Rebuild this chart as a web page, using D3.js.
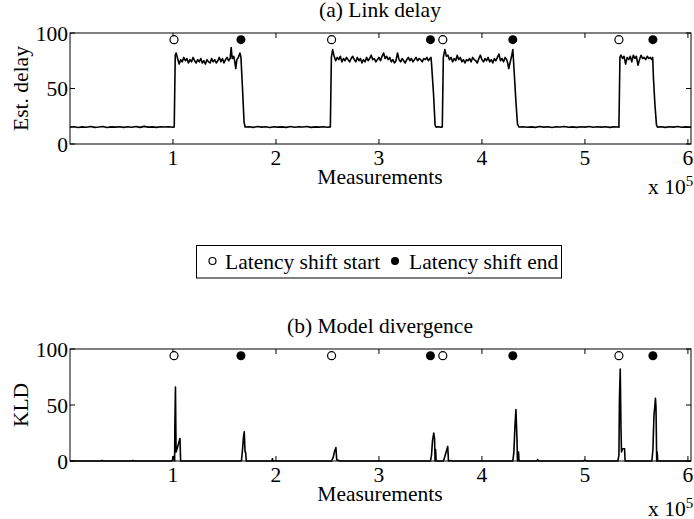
<!DOCTYPE html>
<html>
<head>
<meta charset="utf-8">
<script src="https://cdn.jsdelivr.net/npm/d3@7"></script>
<style>
  body { margin: 0; background: #fff; }
  svg { display: block; font-family: "Liberation Serif", "Times New Roman", serif; }
</style>
</head>
<body>
<svg id="chart" width="694" height="519"></svg>
<script>
// x values are in units of 10^5 measurements
const xTicks = [1, 2, 3, 4, 5, 6];
const yTicks = [0, 50, 100];

const shiftStarts = [1.01, 2.54, 3.62, 5.33];
const shiftEnds   = [1.66, 3.50, 4.30, 5.66];
const markerLevel = 94;

// (a) estimated link delay, [x, delay]
const delay = [
  [0,15.2],[0.04,15.6],[0.08,14.9],[0.12,15.4],[0.16,15.1],[0.2,15.7],[0.24,15.0],[0.28,15.3],[0.32,15.8],[0.36,14.8],
  [0.4,15.4],[0.44,15.2],[0.48,15.6],[0.52,15.0],[0.56,15.5],[0.6,15.1],[0.64,15.7],[0.68,15.0],[0.72,15.9],[0.76,15.2],
  [0.8,15.4],[0.84,15.0],[0.88,15.6],[0.92,15.3],[0.96,15.5],[1.0,15.1],[1.012,15.4],
  [1.022,80],[1.03,82],[1.045,77],[1.06,72],[1.075,76],[1.09,74],[1.105,78],[1.12,75],[1.135,77],[1.15,73],[1.165,76],
  [1.18,74],[1.195,78],[1.21,75],[1.225,73],[1.24,76],[1.255,74],[1.27,77],[1.285,73],[1.3,75],[1.315,72],[1.33,76],
  [1.345,74],[1.36,73],[1.375,77],[1.39,74],[1.405,76],[1.42,73],[1.435,75],[1.45,78],[1.465,74],[1.48,77],[1.495,73],
  [1.51,76],[1.525,78],[1.54,75],[1.555,77],[1.565,87],[1.575,77],[1.59,79],[1.6,74],[1.61,68],[1.62,76],[1.635,78],
  [1.65,82],[1.66,78],[1.675,50],[1.69,20],[1.70,15.3],
  [1.74,15.6],[1.78,15.0],[1.82,15.8],[1.86,15.2],[1.9,15.5],[1.94,14.9],[1.98,15.6],[2.02,15.2],[2.06,15.4],[2.1,15.0],
  [2.14,15.7],[2.18,15.1],[2.22,15.5],[2.26,15.3],[2.3,15.8],[2.34,15.0],[2.38,15.4],[2.42,15.2],[2.46,15.6],[2.5,15.1],[2.528,15.4],
  [2.538,78],[2.55,85],[2.565,79],[2.58,75],[2.595,78],[2.61,76],[2.625,79],[2.64,74],[2.655,77],[2.67,75],[2.685,78],
  [2.70,76],[2.715,74],[2.73,77],[2.745,79],[2.76,76],[2.775,74],[2.79,78],[2.805,75],[2.82,77],[2.835,73],[2.85,76],
  [2.865,74],[2.88,78],[2.895,75],[2.91,77],[2.925,80],[2.94,76],[2.955,77],[2.97,74],[2.985,76],[3.0,78],[3.015,75],
  [3.03,79],[3.045,82],[3.06,77],[3.075,79],[3.09,76],[3.105,78],[3.12,74],[3.135,76],[3.15,73],[3.165,75],[3.18,82],
  [3.195,76],[3.21,74],[3.225,77],[3.24,75],[3.255,73],[3.27,76],[3.285,78],[3.30,75],[3.315,77],[3.33,74],[3.345,76],
  [3.36,78],[3.375,75],[3.39,77],[3.405,76],[3.42,74],[3.435,77],[3.45,76],[3.465,78],[3.48,75],[3.495,77],[3.505,78],
  [3.51,73],[3.53,45],[3.545,17],[3.555,15.2],[3.58,15.6],[3.60,15.1],[3.615,15.4],
  [3.625,78],[3.64,85],[3.655,79],[3.67,80],[3.685,76],[3.70,78],[3.715,74],[3.73,77],[3.745,75],[3.76,80],[3.775,76],
  [3.79,78],[3.805,74],[3.82,76],[3.835,73],[3.85,76],[3.865,75],[3.88,77],[3.895,74],[3.91,78],[3.925,76],[3.94,75],
  [3.955,73],[3.97,77],[3.985,80],[4.0,76],[4.015,74],[4.03,77],[4.045,75],[4.06,78],[4.075,74],[4.09,76],[4.105,73],
  [4.12,77],[4.135,75],[4.15,78],[4.165,81],[4.18,75],[4.195,77],[4.21,74],[4.225,78],[4.24,76],[4.25,73],[4.26,68],
  [4.275,74],[4.29,80],[4.30,85],[4.315,62],[4.33,38],[4.345,18],[4.36,15.3],
  [4.40,15.6],[4.44,15.1],[4.48,15.4],[4.52,15.0],[4.56,15.7],[4.6,15.2],[4.64,15.5],[4.68,14.9],[4.72,15.6],[4.76,15.3],
  [4.8,15.8],[4.84,15.1],[4.88,15.4],[4.92,15.0],[4.96,15.5],[5.0,15.2],[5.04,15.7],[5.08,15.1],[5.12,15.5],[5.16,15.2],
  [5.2,15.6],[5.24,15.0],[5.28,15.4],[5.32,15.3],[5.33,15.1],
  [5.34,78],[5.35,80],[5.365,77],[5.38,79],[5.395,72],[5.41,78],[5.425,76],[5.44,79],[5.455,74],[5.47,80],[5.485,77],
  [5.50,79],[5.515,71],[5.53,76],[5.545,80],[5.56,77],[5.575,78],[5.59,76],[5.605,79],[5.62,77],[5.635,78],[5.65,76],
  [5.658,78],[5.665,60],[5.68,35],[5.695,17],[5.705,15.2],
  [5.74,15.6],[5.78,15.0],[5.82,15.5],[5.86,15.2],[5.90,15.7],[5.94,15.1],[5.98,15.4],[6.02,15.2],[6.03,15.5]
];

// (b) model divergence, [x, KLD]
const kld = [
  [0,0],[0.3,0],[0.31,0.6],[0.32,0],[0.6,0],[0.61,0.5],[0.62,0],[0.98,0],[0.995,0.5],[1.0,4],[1.012,4],[1.016,0],
  [1.018,30],[1.024,66],[1.03,8],[1.04,11],[1.055,16],[1.068,20],[1.074,0],
  [1.65,0],[1.665,0.5],[1.675,10],[1.685,22],[1.692,26],[1.70,8],[1.705,8],[1.712,0],
  [1.96,0],[1.965,2],[1.97,0],
  [2.54,0],[2.555,3],[2.57,9],[2.582,12],[2.59,1],[2.61,0.5],[2.62,0],
  [3.50,0],[3.51,5],[3.52,18],[3.532,25],[3.54,20],[3.545,0],[3.55,10],[3.555,0],
  [3.625,0],[3.64,4],[3.655,9],[3.668,13],[3.675,0],[3.70,0.5],[3.71,0],
  [4.30,0],[4.31,8],[4.32,30],[4.33,46],[4.34,20],[4.345,0],[4.355,8],[4.36,0],
  [4.53,0],[4.54,1.2],[4.55,0],
  [4.98,0],[5.0,0.6],[5.02,0],
  [5.32,0],[5.33,5],[5.335,55],[5.343,82],[5.35,30],[5.355,8],[5.365,11],[5.385,11],[5.39,0],
  [5.65,0],[5.66,10],[5.67,40],[5.685,56],[5.69,48],[5.697,0],[5.702,8],[5.707,0],
  [6.03,0]
];

const svg = d3.select('#chart');
const x = d3.scaleLinear().domain([0, 6.03]).range([70, 691]);
const fs = 21.5;

function panel(series, top, bottom, title, yLabel, expOffset) {
  const y = d3.scaleLinear().domain([0, 100]).range([bottom, top]);
  const g = svg.append('g');
  const tick = 5;

  g.append('text').attr('x', 380).attr('y', top - 16.5)
    .attr('text-anchor', 'middle').attr('font-size', fs).text(title);

  // inward ticks on all four sides
  g.selectAll('.xt').data(xTicks).join('line')
    .attr('x1', d => x(d)).attr('x2', d => x(d))
    .attr('y1', bottom).attr('y2', bottom - tick).attr('stroke', '#000');
  g.selectAll('.xt2').data(xTicks).join('line')
    .attr('x1', d => x(d)).attr('x2', d => x(d))
    .attr('y1', top).attr('y2', top + tick).attr('stroke', '#000');
  g.selectAll('.yt').data(yTicks).join('line')
    .attr('x1', 70).attr('x2', 70 + tick)
    .attr('y1', d => y(d)).attr('y2', d => y(d)).attr('stroke', '#000');
  g.selectAll('.yt2').data(yTicks).join('line')
    .attr('x1', 691).attr('x2', 691 - tick)
    .attr('y1', d => y(d)).attr('y2', d => y(d)).attr('stroke', '#000');

  g.selectAll('.xl').data(xTicks).join('text')
    .attr('x', d => x(d)).attr('y', bottom + 21)
    .attr('text-anchor', 'middle').attr('font-size', fs).text(d => d);
  g.selectAll('.yl').data(yTicks).join('text')
    .attr('x', 68).attr('y', d => y(d) + 7.5)
    .attr('text-anchor', 'end').attr('font-size', fs).text(d => d);

  g.append('text').attr('x', 380).attr('y', bottom + 39.5)
    .attr('text-anchor', 'middle').attr('font-size', fs).text('Measurements');
  const ex = g.append('text').attr('x', 648).attr('y', bottom + expOffset).attr('font-size', fs);
  ex.append('tspan').text('x 10');
  ex.append('tspan').attr('font-size', 15).attr('dy', -8).text('5');

  g.append('text')
    .attr('transform', `translate(28,${(top + bottom) / 2}) rotate(-90)`)
    .attr('text-anchor', 'middle').attr('font-size', fs).text(yLabel);

  const line = d3.line().x(d => x(d[0])).y(d => y(d[1]));
  g.append('path').datum(series).attr('d', line)
    .attr('fill', 'none').attr('stroke', '#000').attr('stroke-width', 1.6)
    .attr('stroke-linejoin', 'round');

  g.selectAll('.ms').data(shiftStarts).join('circle')
    .attr('cx', d => x(d)).attr('cy', y(markerLevel)).attr('r', 4)
    .attr('fill', '#fff').attr('stroke', '#000').attr('stroke-width', 1.2);
  g.selectAll('.me').data(shiftEnds).join('circle')
    .attr('cx', d => x(d)).attr('cy', y(markerLevel)).attr('r', 4.5)
    .attr('fill', '#000');

  g.append('rect').attr('x', 70).attr('y', top)
    .attr('width', 691 - 70).attr('height', bottom - top)
    .attr('fill', 'none').attr('stroke', '#000');
}

panel(delay, 33, 144, '(a) Link delay', 'Est. delay', 50);
panel(kld, 349, 461, '(b) Model divergence', 'KLD', 55);

// legend
const leg = svg.append('g');
leg.append('rect').attr('x', 196.5).attr('y', 245.5).attr('width', 365).attr('height', 32.5)
  .attr('fill', '#fff').attr('stroke', '#000');
leg.append('circle').attr('cx', 212.5).attr('cy', 261).attr('r', 3.5)
  .attr('fill', '#fff').attr('stroke', '#000').attr('stroke-width', 1.2);
leg.append('text').attr('x', 225).attr('y', 268.5).attr('font-size', fs).text('Latency shift start');
leg.append('circle').attr('cx', 395).attr('cy', 261).attr('r', 4).attr('fill', '#000');
leg.append('text').attr('x', 409).attr('y', 268.5).attr('font-size', fs).text('Latency shift end');
</script>
</body>
</html>
